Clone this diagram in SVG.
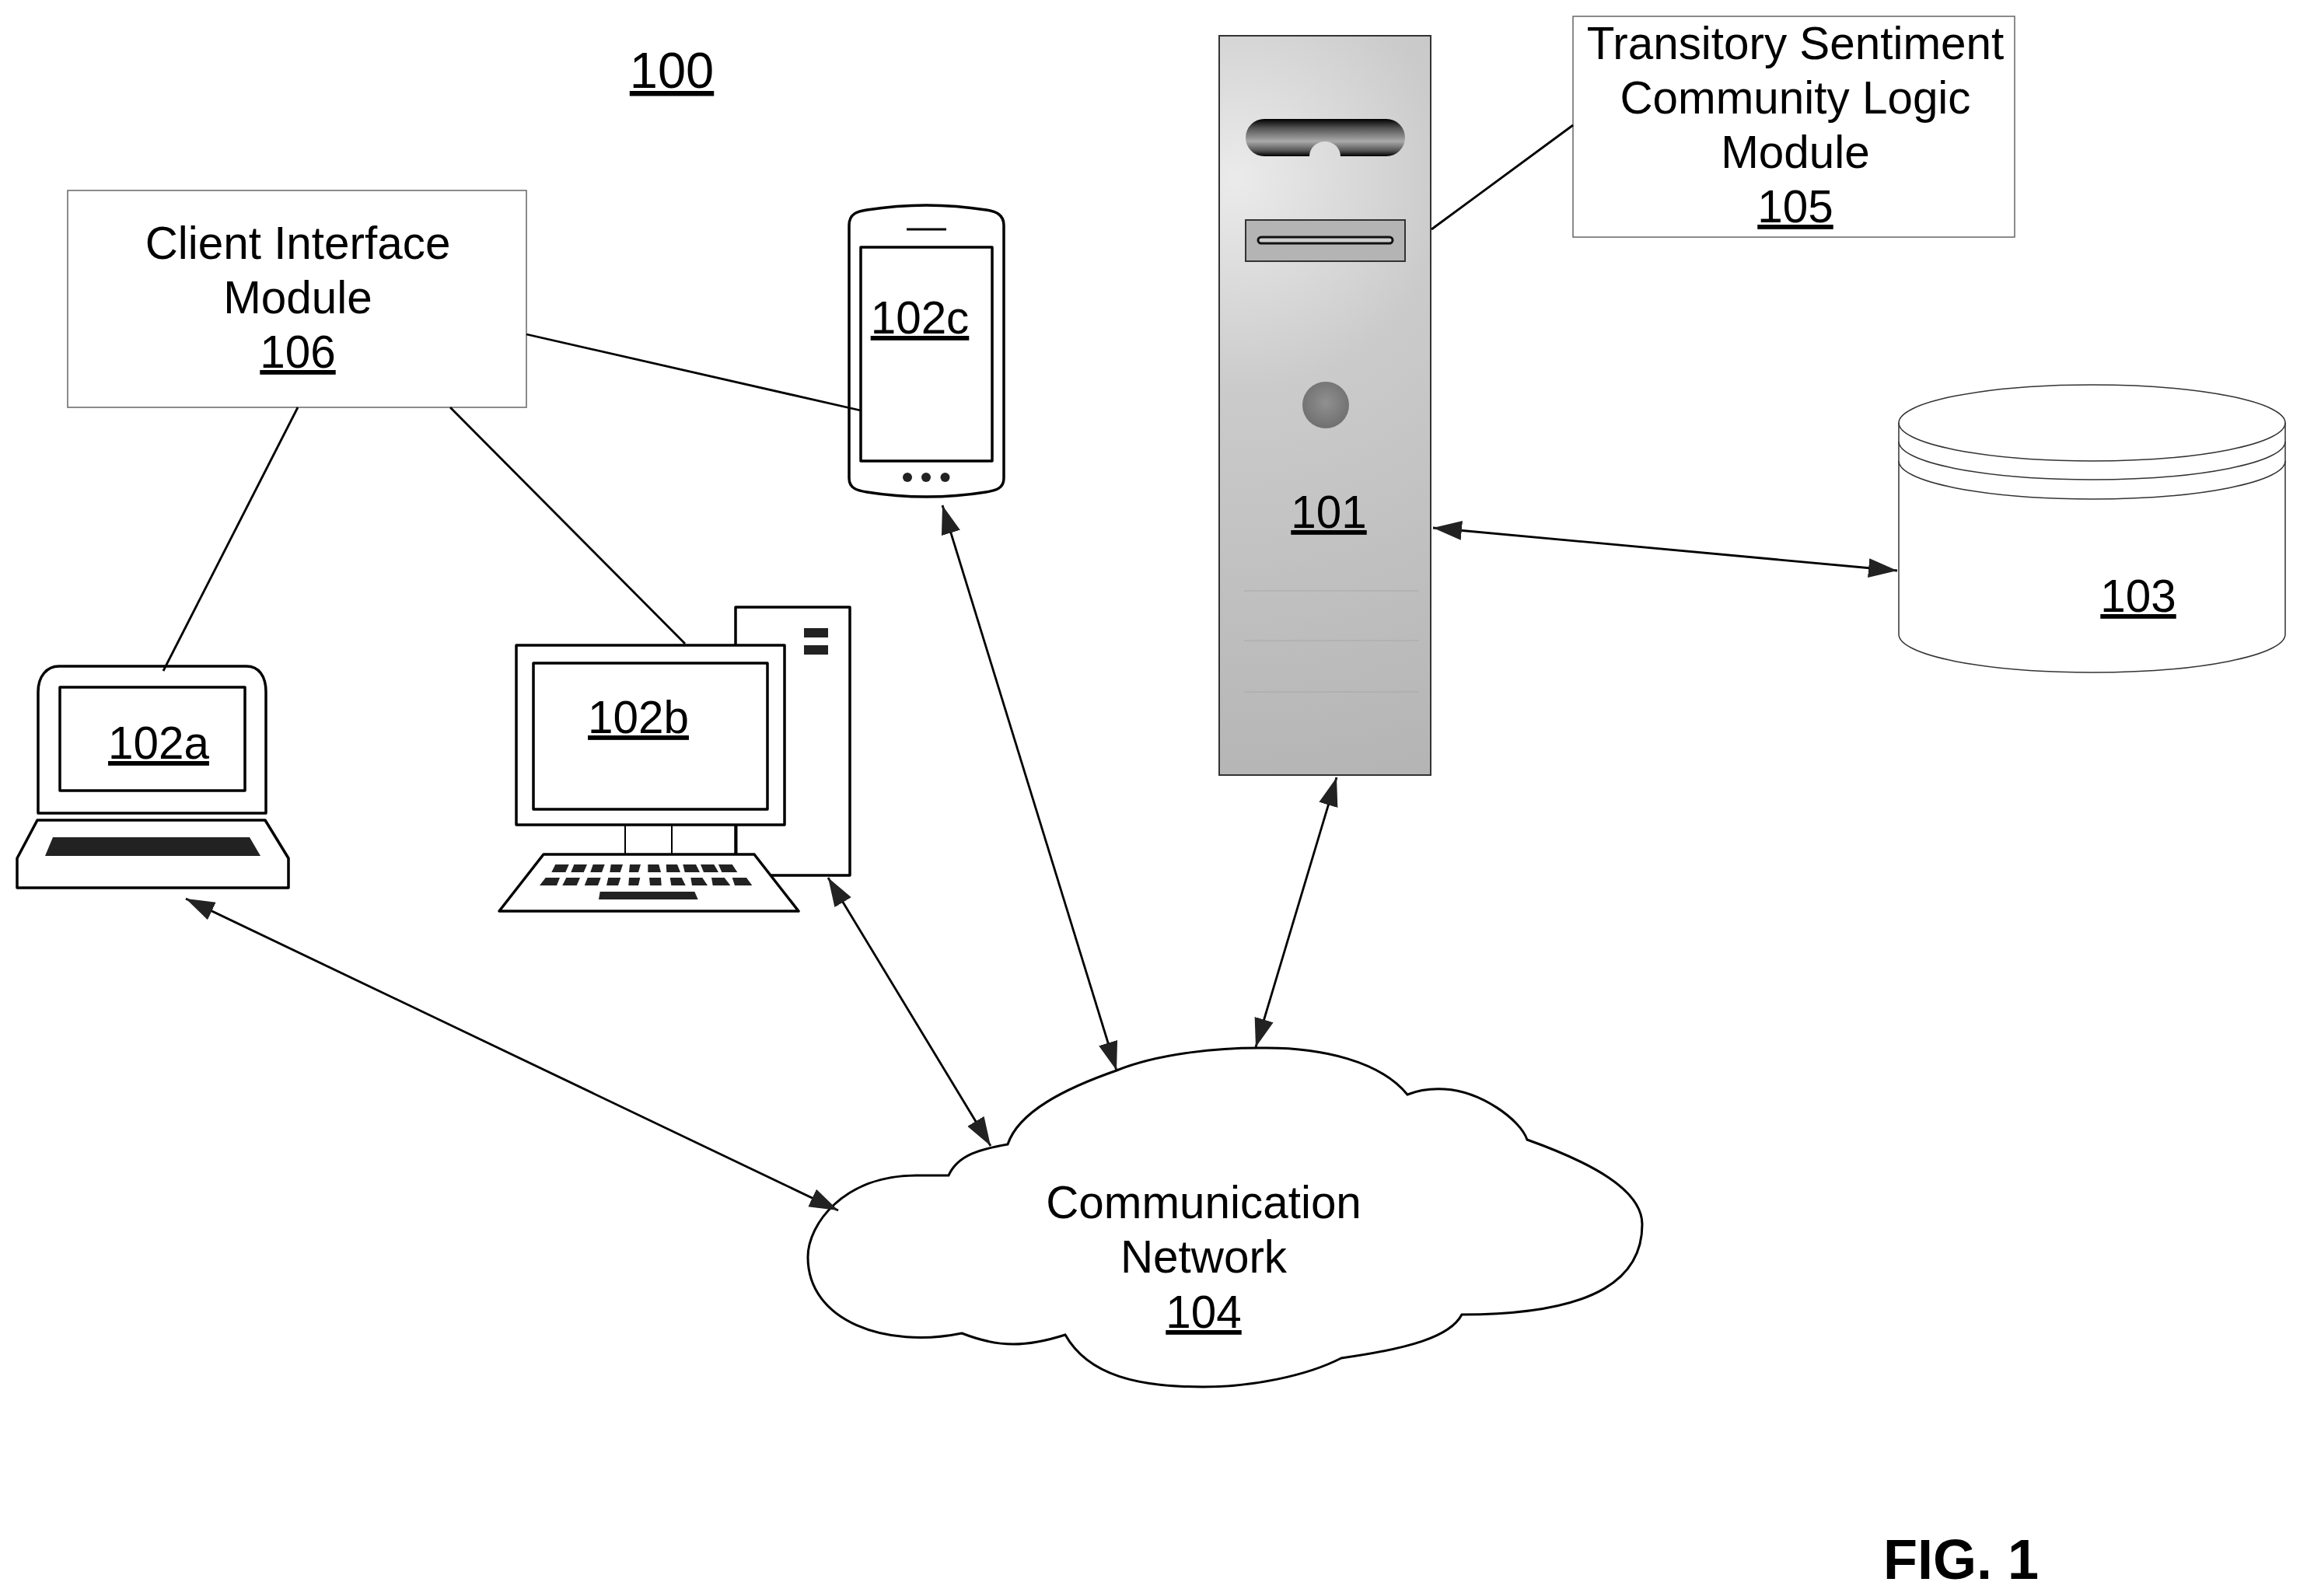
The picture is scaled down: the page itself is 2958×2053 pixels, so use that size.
<svg xmlns="http://www.w3.org/2000/svg" width="2958" height="2053" viewBox="0 0 2958 2053">
<style>
text{font-family:"Liberation Sans",Arial,sans-serif;font-size:58.400px;fill:#000;text-anchor:middle}
.u{text-decoration:underline}
.box{fill:#fff;stroke:#666;stroke-width:1.5}
.dev{fill:#fff;stroke:#000;stroke-width:3.5;stroke-linejoin:round}
.thin{fill:none;stroke:#000;stroke-width:2}
.dk{fill:#222}
.conn{fill:none;stroke:#000;stroke-width:2.8}
.arr{marker-start:url(#ah);marker-end:url(#ah)}
</style>
<defs>
<marker id="ah" markerUnits="userSpaceOnUse" markerWidth="38" markerHeight="26" viewBox="0 0 38 26" refX="37" refY="13" orient="auto-start-reverse"><path d="M0 0.500L37 13L0 25.500Z" fill="#222"/></marker>
<radialGradient id="srv" gradientUnits="userSpaceOnUse" cx="1590" cy="230" r="900">
<stop offset="0" stop-color="#ebebeb"/><stop offset=".3" stop-color="#cbcbcb"/><stop offset="1" stop-color="#b0b0b0"/></radialGradient>
<linearGradient id="pill" x1="0" y1="0" x2="0" y2="1"><stop offset="0" stop-color="#000"/><stop offset=".25" stop-color="#555"/><stop offset=".6" stop-color="#aaa"/><stop offset=".85" stop-color="#555"/><stop offset="1" stop-color="#000"/></linearGradient>
<radialGradient id="led" cx=".5" cy=".45" r=".55"><stop offset="0" stop-color="#909090"/><stop offset="1" stop-color="#707070"/></radialGradient>
</defs>
<g id="label-100"><text class="u" x="864" y="113" style="font-size:65px">100</text></g>
<g id="node-106"><rect class="box" x="87" y="245" width="590" height="279"/>
<text x="383" y="333">Client Interface</text><text x="383" y="403">Module</text><text class="u" x="383" y="473">106</text></g>
<g id="node-105"><rect class="box" x="2023" y="21" width="568" height="284"/>
<text x="2309" y="76">Transitory Sentiment</text><text x="2309" y="146">Community Logic</text><text x="2309" y="216">Module</text><text class="u" x="2309" y="286">105</text></g>
<g id="node-101">
<rect x="1568" y="46" width="272" height="951" fill="url(#srv)" stroke="#333" stroke-width="2"/>
<path d="M1626 153H1783A24 24 0 0 1 1783 201H1724A20 19 0 0 0 1684 201H1626A24 24 0 0 1 1626 153Z" fill="url(#pill)"/>
<rect x="1602" y="283" width="205" height="53" fill="#b4b4b4" stroke="#333" stroke-width="2"/>
<rect x="1618" y="305" width="173" height="8" rx="4" fill="#ccc" stroke="#111" stroke-width="3"/>
<circle cx="1705" cy="521" r="30" fill="url(#led)"/>
<path d="M1600 760H1825M1600 824H1825M1600 890H1825" stroke="#a8a8a8" stroke-width="1" fill="none"/>
<text class="u" x="1709" y="679">101</text></g>
<g id="node-103">
<path class="box" style="stroke:#333" d="M2442 544V816A248.500 49 0 0 0 2939 816V544A248.500 49 0 0 0 2442 544Z"/>
<path class="box" style="stroke:#333;fill:none" d="M2442 544A248.500 49 0 0 0 2939 544M2442 568A248.500 49 0 0 0 2939 568M2442 593A248.500 49 0 0 0 2939 593"/>
<text class="u" x="2750" y="787">103</text></g>
<g id="node-102a">
<path class="dev" d="M49 1046V890C49 870 60 857 76 857H317C333 857 342 870 342 890V1046Z"/>
<rect class="dev" x="77" y="884" width="238" height="133"/>
<path class="dev" d="M48 1055H341L371 1104V1142H22V1104Z"/>
<path class="dk" d="M68 1077H321L335 1101H58Z"/>
<text class="u" x="204" y="976">102a</text></g>
<g id="node-102b">
<rect class="dev" x="946" y="781" width="147" height="345"/>
<rect class="dk" x="1034" y="808" width="31" height="12"/><rect class="dk" x="1034" y="830" width="31" height="12"/>
<rect class="dev" x="664" y="830" width="345" height="231"/>
<rect class="dev" x="686" y="853" width="301" height="188"/>
<path class="thin" d="M804 1061V1099M864 1061V1099"/><path class="thin" style="stroke-width:3" d="M947 1061V1099"/>
<path class="dev" d="M699 1099H970L1027 1172H642Z"/>
<path class="dk" d="M714.300 1112H731.700L727.300 1122H709.300ZM738.300 1112H755L750.700 1122H734.300ZM762.700 1112H777.700L774 1122H759.300ZM785.700 1112H801L797.700 1122H784.300ZM810 1112H824L821 1122H809ZM833.300 1112H847.300L850 1122H833.300ZM856.700 1112H871L875 1122H857.300ZM878.300 1112H895L900 1122H880.700ZM901 1112H918.300L924 1122H905ZM924 1112H941.700L948.300 1122H928.300Z"/>
<path class="dk" d="M701.700 1129H720L716 1139H694ZM728.300 1129H746L741.700 1139H723.300ZM755.700 1129H772.700L769 1139H751.700ZM782.300 1129H798.300L795 1139H780ZM809 1129H823.300L821 1139H808.300ZM835 1129H850L850.700 1139H836ZM861.700 1129H876.700L881.700 1139H863.300ZM888.300 1129H903.300L910 1139H890ZM915 1129H931.700L939.300 1139H916.700ZM941.700 1129H960L967.300 1139H945Z"/>
<path class="dk" d="M771.700 1147H893.300L897.700 1157H770Z"/>
<text class="u" x="821" y="943">102b</text></g>
<g id="node-102c">
<path class="dev" d="M1092 290C1092 275 1102 272 1115 270C1165 262 1218 262 1268 270C1281 272 1291 276 1291 290V615C1291 628 1281 631 1268 633C1218 641 1165 641 1115 633C1102 631 1092 628 1092 615Z"/>
<rect class="dev" x="1107" y="318" width="169" height="275"/>
<path class="thin" style="stroke-width:3" d="M1166 295H1217"/>
<circle class="dk" cx="1167" cy="614" r="6"/><circle class="dk" cx="1191" cy="614" r="6"/><circle class="dk" cx="1215.500" cy="614" r="6"/>
<text class="u" x="1183" y="429">102c</text></g>
<g id="node-104">
<path d="M1296 1472C1310 1430 1370 1400 1436 1377C1490 1355 1570 1347 1629 1348C1700 1348 1775 1365 1810 1408C1825 1402 1842 1400 1858 1401C1905 1404 1955 1440 1964 1466C2045 1495 2112 1530 2112 1575C2112 1640 2060 1691 1880 1691C1865 1720 1810 1735 1725 1747C1680 1770 1610 1784 1547 1784C1465 1784 1400 1770 1370 1717C1345 1725 1322 1729 1303 1729C1280 1729 1255 1722 1237 1715C1140 1735 1039 1700 1039 1617C1039 1575 1085 1512 1178 1512C1192 1512 1206 1512 1220 1512C1232 1485 1262 1478 1296 1472Z" fill="#fff" stroke="#000" stroke-width="3"/>
<text x="1548" y="1567">Communication</text><text x="1548" y="1637">Network</text><text class="u" x="1548" y="1708">104</text></g>
<g id="connectors">
<path class="conn" d="M383 524L210 863"/>
<path class="conn" d="M579 524L881 828"/>
<path class="conn" d="M677 430L1107 528"/>
<path class="conn" d="M1841 295L2023 161"/>
<path class="conn arr" d="M239 1156L1078 1557"/>
<path class="conn arr" d="M1065 1129L1274 1474"/>
<path class="conn arr" d="M1212 650L1436 1377"/>
<path class="conn arr" d="M1719 1000L1615 1347"/>
<path class="conn arr" d="M1843 679L2440 734"/>
</g>
<g id="label-fig"><text x="2522" y="2031" style="font-size:72px;font-weight:bold">FIG. 1</text></g>
</svg>
